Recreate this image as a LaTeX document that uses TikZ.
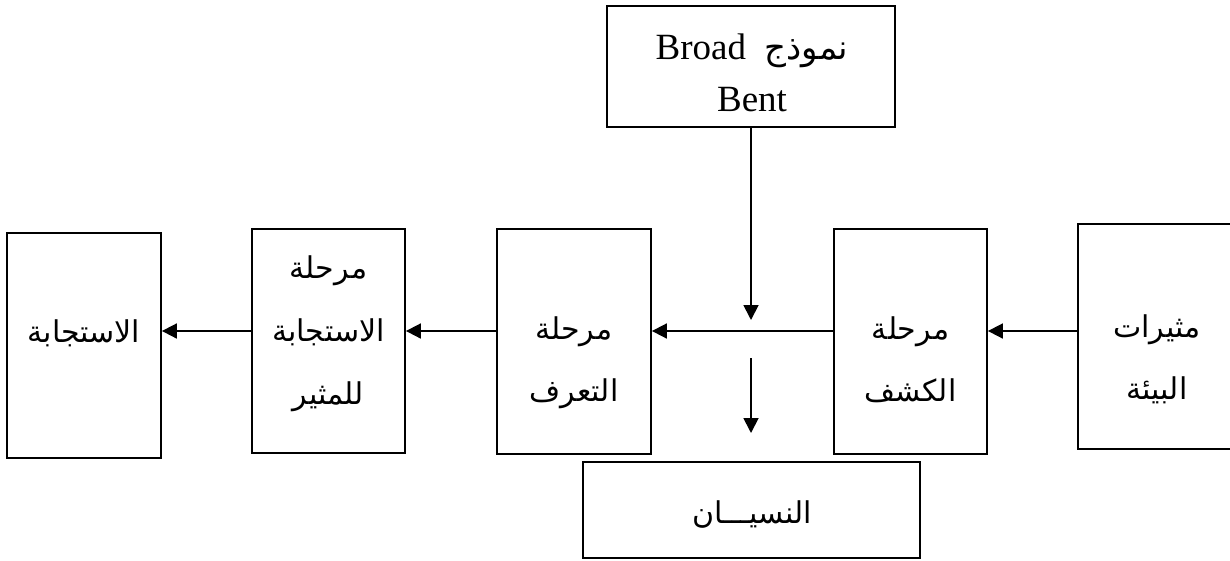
\documentclass[tikz,border=0pt]{standalone}
\usepackage{fontspec}
\setmainfont{Liberation Serif}
\newfontfamily\arabicfont[Script=Arabic]{DejaVu Sans}
\TeXXeTstate=1
\usetikzlibrary{arrows.meta}
\begin{document}
\begin{tikzpicture}[x=1pt,y=-1pt,
  box/.style={draw, line width=1.8pt, inner sep=0pt},
  conn/.style={line width=1.8pt, -{Triangle[length=15pt,width=15pt]}},
  ar/.style={font=\arabicfont\fontsize{30}{36}\selectfont, anchor=base, inner sep=0pt},
  lt/.style={font=\fontsize{37}{44}\selectfont, anchor=base, inner sep=0pt}]
\useasboundingbox[fill=white] (0,0) rectangle (1230,560);
% boxes
\node[box, minimum width=288pt, minimum height=121pt] (top) at (751,66.5) {};
\node[box, minimum width=154pt, minimum height=225pt] (resp) at (84,345.5) {};
\node[box, minimum width=153pt, minimum height=224pt] (stage) at (328.5,341) {};
\node[box, minimum width=154pt, minimum height=225pt] (recog) at (574,341.5) {};
\node[box, minimum width=153pt, minimum height=225pt] (detect) at (910.5,341.5) {};
\node[box, minimum width=158pt, minimum height=225pt] (stim) at (1157,336.5) {};
\node[box, minimum width=337pt, minimum height=96pt] (forget) at (751.5,510) {};
% texts
\node[lt] (t1) at (752,59) {Broad\hspace{0.5em}{\arabicfont\fontsize{34}{40}\selectfont\beginR نموذج\endR}};
\node[lt] (t2) at (752,111) {Bent};
\node[ar] (r1) at (84,342) {\beginR الاستجابة\endR};
\node[ar] (s1) at (328.5,278) {\beginR مرحلة\endR};
\node[ar] (s2) at (328.5,341) {\beginR الاستجابة\endR};
\node[ar] (s3) at (328.5,404) {\beginR للمثير\endR};
\node[ar] (c1) at (574,339) {\beginR مرحلة\endR};
\node[ar] (c2) at (574,401) {\beginR التعرف\endR};
\node[ar] (d1) at (910.5,339) {\beginR مرحلة\endR};
\node[ar] (d2) at (910.5,401) {\beginR الكشف\endR};
\node[ar] (m1) at (1157,337) {\beginR مثيرات\endR};
\node[ar] (m2) at (1157,399) {\beginR البيئة\endR};
\node[ar] (f1) at (752,523) {\beginR النسيـــان\endR};
% connectors
\coordinate (ay) at (0,331);
\coordinate (j1) at (751,320);
\coordinate (j2) at (751,358);
\coordinate (j3) at (751,433);
\draw[conn] (stim.west |- ay) -- (detect.east |- ay);
\draw[conn] (detect.west |- ay) -- (recog.east |- ay);
\draw[conn] (recog.west |- ay) -- (stage.east |- ay);
\draw[conn] (stage.west |- ay) -- (resp.east |- ay);
\draw[conn] (top.south) -- (j1);
\draw[conn] (j2) -- (j3);
\end{tikzpicture}
\end{document}
